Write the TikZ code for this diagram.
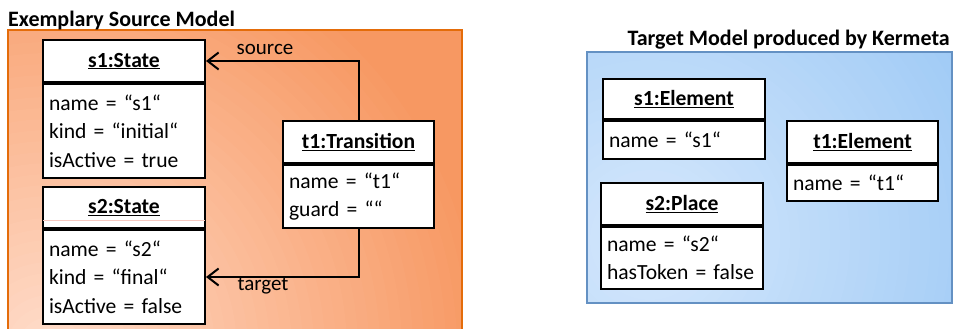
\documentclass[tikz,border=0pt]{standalone}
\usepackage{fontspec}
\setmainfont{Carlito}
\usetikzlibrary{arrows.meta}
\definecolor{orIn}{RGB}{255,222,205}
\definecolor{orOut}{RGB}{247,152,98}
\definecolor{orLine}{RGB}{228,108,10}
\definecolor{blIn}{RGB}{214,232,252}
\definecolor{blOut}{RGB}{155,200,245}
\definecolor{blLine}{RGB}{100,145,195}
\definecolor{seam}{RGB}{246,200,192}
\newcommand\attrfont{\fontsize{21.6}{28.5}\selectfont}

\begin{document}
\begin{tikzpicture}[x=1pt,y=-1pt,
  hdr/.style={draw, line width=2pt, fill=white, inner sep=0pt, font=\attrfont\bfseries},
  body/.style={draw, line width=2pt, fill=white, inner xsep=6pt, inner ysep=0pt,
               align=left, font=\attrfont, anchor=north},
  title/.style={font=\fontsize{22}{26}\selectfont\bfseries, inner sep=0pt},
  role/.style={font=\fontsize{21}{25}\selectfont, inner sep=0pt},
  link/.style={line width=2pt, -{Straight Barb[length=11pt,width=17pt,line width=2pt]}}
]
\useasboundingbox (0,0) rectangle (953,329);

% source model panel with a radial glow
\begin{scope}
  \clip (8,30) rectangle (462,345);
  \fill[orOut] (8,30) rectangle (462,345);
  \foreach \i [evaluate=\i as \r using \i*11, evaluate=\i as \p using 100-\i*2.5] in {40,39,...,1}
    \fill[orIn!\p!orOut] (50,350) circle (\r pt);
\end{scope}
\draw[orLine, line width=2pt] (8,30) rectangle (462,345);

% target model panel
\begin{scope}
  \clip (587,52) rectangle (952,303);
  \fill[blOut] (587,52) rectangle (952,303);
  \foreach \i [evaluate=\i as \r using \i*10, evaluate=\i as \p using 100-\i*2.5] in {40,39,...,1}
    \fill[blIn!\p!blOut] (650,240) circle (\r pt);
\end{scope}
\draw[blLine, line width=2pt] (587,52) rectangle (952,303);

% titles
\node[title, anchor=base west] (srcTitle) at (8,27) {Exemplary Source Model};
\node[title, anchor=base east] (tgtTitle) at (950,46) {Target Model produced by Kermeta};

% source objects
\node[hdr, minimum width=162pt, minimum height=42pt] (s1h) at (124,61) {\underline{s1:State}};
\node[body, text width=150pt, minimum height=94pt] (s1b) at (s1h.south)
  {name = “s1“\\kind = “initial“\\isActive = true};

\node[hdr, minimum width=162pt, minimum height=41pt] (s2h) at (124,207.5) {\underline{s2:State}};
\draw[seam, line width=0.8pt] ([xshift=1pt,yshift=9pt]s2h.south west) -- ([xshift=-1pt,yshift=9pt]s2h.south east);
\node[body, text width=150pt, minimum height=94pt] (s2b) at (s2h.south)
  {name = “s2“\\kind = “final“\\isActive = false};

\node[hdr, minimum width=151pt, minimum height=42pt] (t1h) at (358.5,142) {\underline{t1:Transition}};
\node[body, text width=139pt, minimum height=63pt] (t1b) at (t1h.south)
  {name = “t1“\\guard = ““};

% references of the transition
\draw[link] (t1h.north) |- (s1h.east);
\draw[link] (t1b.south) |- (s2b.east);
\node[role] (srcRole) at (265,49) {source};
\node[role] (tgtRole) at (263,286) {target};

% target objects
\node[hdr, minimum width=162pt, minimum height=40pt] (e1h) at (684,99) {\underline{s1:Element}};
\node[body, text width=150pt, minimum height=38pt] (e1b) at (e1h.south) {name = “s1“};

\node[hdr, minimum width=162pt, minimum height=42pt] (p2h) at (682,204) {\underline{s2:Place}};
\node[body, text width=150pt, minimum height=62pt] (p2b) at (p2h.south)
  {name = “s2“\\hasToken = false};

\node[hdr, minimum width=151pt, minimum height=42pt] (e2h) at (862.5,142) {\underline{t1:Element}};
\node[body, text width=139pt, minimum height=36pt] (e2b) at (e2h.south) {name = “t1“};
\end{tikzpicture}
\end{document}
